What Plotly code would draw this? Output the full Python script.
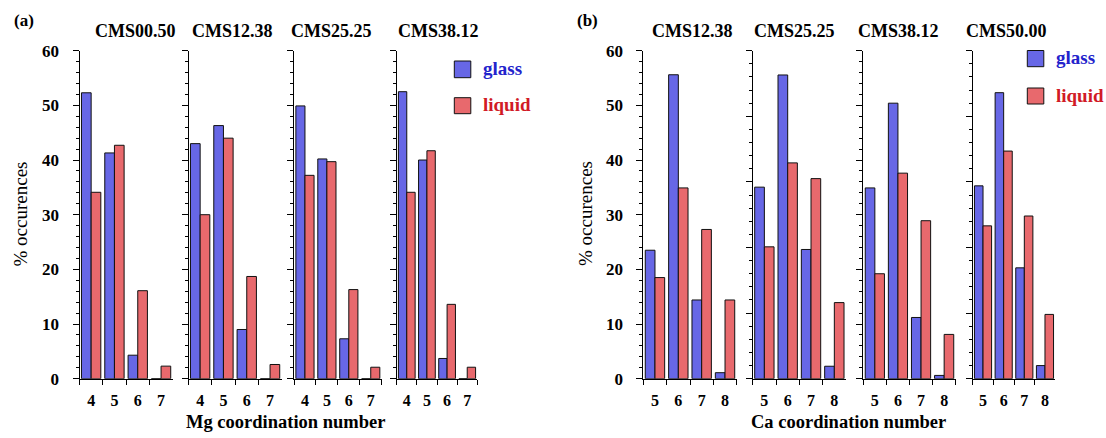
import plotly.graph_objects as go

# ---------------- data ----------------
mg_numbers = ["4", "5", "6", "7"]
ca_numbers = ["5", "6", "7", "8"]
mg_compositions = ["CMS00.50", "CMS12.38", "CMS25.25", "CMS38.12"]
ca_compositions = ["CMS12.38", "CMS25.25", "CMS38.12", "CMS50.00"]

mg_glass = [
    [52.3, 41.3, 4.3, 0.0],
    [43.0, 46.3, 9.0, 0.0],
    [49.9, 40.2, 7.3, 0.0],
    [52.5, 40.0, 3.7, 0.0],
]
mg_liquid = [
    [34.1, 42.7, 16.1, 2.3],
    [30.0, 44.0, 18.7, 2.6],
    [37.2, 39.7, 16.3, 2.1],
    [34.1, 41.7, 13.6, 2.1],
]
ca_glass = [
    [23.5, 55.6, 14.4, 1.1],
    [29.2, 46.3, 19.7, 1.9],
    [34.9, 50.4, 11.2, 0.6],
    [29.4, 43.6, 16.9, 2.0],
]
ca_liquid = [
    [18.5, 34.9, 27.3, 14.4],
    [20.1, 32.9, 30.5, 11.6],
    [19.2, 37.6, 28.9, 8.1],
    [23.3, 34.7, 24.8, 9.8],
]
mg_axis_max = [60, 60, 60, 60]
ca_axis_max = [60, 50, 60, 50]
series_names = ["glass", "liquid"]

# ---------------- layout constants ----------------
W, H = 1106, 438
FONT = "Liberation Serif, Times New Roman, DejaVu Serif, serif"
GLASS_FILL = "#6767e6"
LIQUID_FILL = "#e8696d"
GLASS_TEXT = "#2323cc"
LIQUID_TEXT = "#d11a26"

mg_x_px = [(79.5, 172.7), (188.5, 281.7), (294.0, 381.7), (396.7, 477.3)]
ca_x_px = [(643.3, 736.7), (752.7, 846.0), (863.3, 955.7), (972.7, 1055.3)]
plot_top, plot_bottom = 50.7, 378.7
ydom = [(H - plot_bottom) / H, (H - plot_top) / H]


def px(x):
    return x / W


def py(y):
    return 1 - y / H


fig = go.Figure()
layout = dict(
    template="none",
    width=W, height=H,
    margin=dict(l=0, r=0, t=0, b=0, pad=0, autoexpand=False),
    paper_bgcolor="white", plot_bgcolor="white",
    barmode="group", bargap=0.17, bargroupgap=0.0,
    showlegend=False,
    font=dict(family=FONT, color="black"),
)

panels = []
for i in range(4):
    panels.append((mg_x_px[i], mg_numbers, mg_glass[i], mg_liquid[i], mg_axis_max[i], i == 0))
for i in range(4):
    panels.append((ca_x_px[i], ca_numbers, ca_glass[i], ca_liquid[i], ca_axis_max[i], i == 0))

for k, (xpx, cats, g, l, ymax, first) in enumerate(panels):
    n = k + 1
    xa = "x" if n == 1 else f"x{n}"
    ya = "y" if n == 1 else f"y{n}"
    for vals, fill, name in ((g, GLASS_FILL, series_names[0]), (l, LIQUID_FILL, series_names[1])):
        fig.add_trace(go.Bar(
            x=cats, y=vals, name=name, xaxis=xa, yaxis=ya,
            marker=dict(color=fill, line=dict(color="#111111", width=1)),
            offsetgroup=name,
        ))
    xkey = "xaxis" if n == 1 else f"xaxis{n}"
    ykey = "yaxis" if n == 1 else f"yaxis{n}"
    layout[xkey] = dict(
        domain=[px(xpx[0]), px(xpx[1])], anchor=ya, type="category",
        categoryorder="array", categoryarray=cats,
        tickmode="array", tickvals=cats, ticktext=cats, tickangle=0,
        showline=True, linecolor="black", linewidth=1, mirror=False,
        ticks="outside", tickson="boundaries", ticklen=5, tickcolor="black", tickwidth=1,
        tickfont=dict(family=FONT, size=16, weight="bold", color="black"),
        ticklabelstandoff=7, automargin=False,
        showgrid=False, zeroline=False, fixedrange=True,
    )
    layout[ykey] = dict(
        domain=ydom, anchor=xa, range=[0, ymax],
        showline=True, linecolor="black", linewidth=1, mirror=False,
        ticks="outside", ticklen=6, tickcolor="black", tickwidth=1,
        tickmode="linear", dtick=10, tick0=0,
        minor=dict(ticks="outside", ticklen=3, dtick=2, tick0=0, tickcolor="black", tickwidth=1, showgrid=False),
        showticklabels=first,
        tickfont=dict(family=FONT, size=17, weight="bold", color="black"),
        ticklabelstandoff=10, automargin=False,
        showgrid=False, zeroline=False, fixedrange=True,
    )

fig.update_layout(**layout)

annotations = []


def add_text(text, x, y, size, color="black", bold=True, angle=0):
    annotations.append(dict(
        text=f"<b>{text}</b>" if bold else text,
        x=px(x), y=py(y), xref="paper", yref="paper",
        xanchor="center", yanchor="middle", showarrow=False,
        textangle=angle,
        font=dict(family=FONT, size=size, color=color),
    ))


# panel titles
mg_title_cx = [135, 232.5, 331, 438]
ca_title_cx = [692.5, 794.5, 898, 1006]
for name, cx in zip(mg_compositions, mg_title_cx):
    add_text(name, cx, 31.5, 18)
for name, cx in zip(ca_compositions, ca_title_cx):
    add_text(name, cx, 31.5, 18)

add_text("(a)", 24, 21, 17)
add_text("(b)", 587.5, 20, 17)

add_text("% occurences", 19.5, 214, 19, bold=False, angle=-90)
add_text("% occurences", 585, 214, 19, bold=False, angle=-90)

add_text("Mg coordination number", 285, 422, 18.5)
add_text("Ca coordination number", 848, 422, 18.5)

# legends
shapes = []
legend_specs = [
    (454.3, [(61, 77.7), (97.7, 113.7)]),
    (1027.3, [(50.5, 66.7), (88.0, 104.0)]),
]
for x0, rows in legend_specs:
    for (y0, y1), fill, label, tcol in zip(rows, [GLASS_FILL, LIQUID_FILL], series_names, [GLASS_TEXT, LIQUID_TEXT]):
        shapes.append(dict(type="rect", xref="paper", yref="paper",
                           x0=px(x0), x1=px(x0 + 16.5), y0=py(y1), y1=py(y0),
                           fillcolor=fill, line=dict(color="#111111", width=1)))
        annotations.append(dict(
            text=f"<b>{label}</b>", x=px(x0 + 27), y=py((y0 + y1) / 2 - 1),
            xref="paper", yref="paper", xanchor="left", yanchor="middle",
            showarrow=False, font=dict(family=FONT, size=19, color=tcol),
        ))

fig.update_layout(annotations=annotations, shapes=shapes)
fig.write_html(
    "out.html",
    config={"displayModeBar": False},
    post_script="document.body.style.margin='0px';document.body.style.overflow='hidden';",
)
